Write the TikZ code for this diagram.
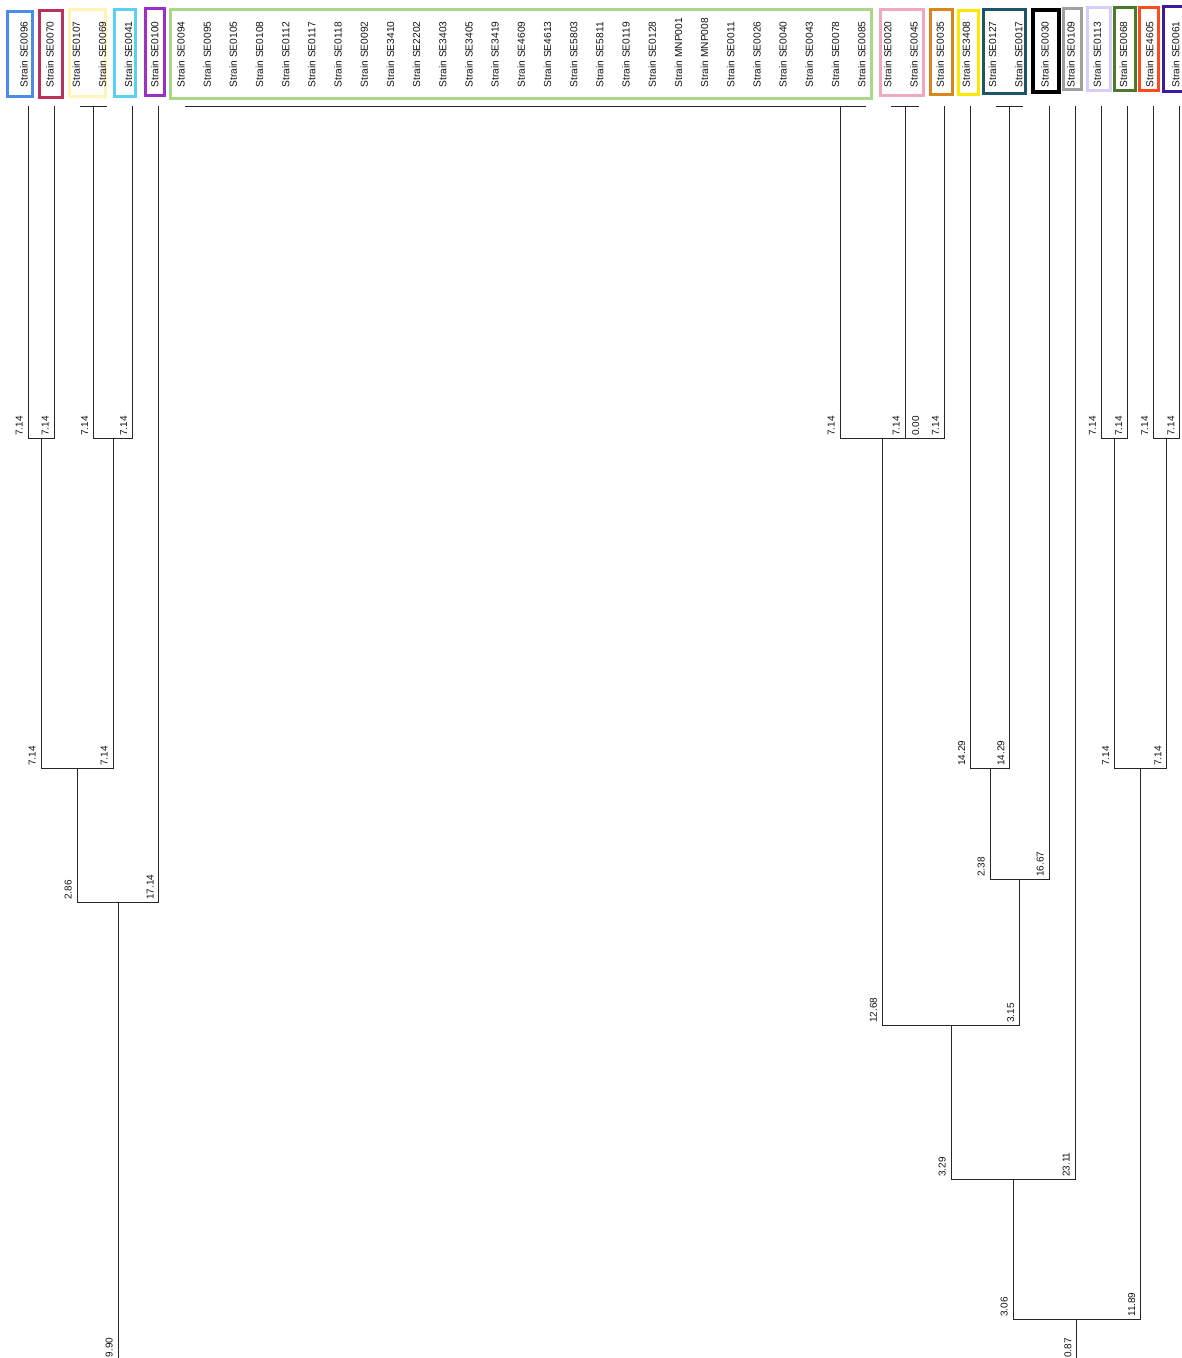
\documentclass[tikz,border=0pt]{standalone}
\usepackage{fontspec}
\setmainfont{Liberation Sans}
\begin{document}
\begin{tikzpicture}[x=1pt,y=-1pt,
  tree/.style={line width=1pt, draw=black!85, line cap=rect},
  lab/.style={rotate=90, anchor=base west, inner sep=0pt, font=\fontsize{10.2}{12}\selectfont, text=black!92},
  num/.style={rotate=90, anchor=base west, inner sep=0pt, font=\fontsize{10}{12}\selectfont, text=black!92},
  box/.style={line width=3pt}]
\useasboundingbox (0,0) rectangle (1182,1358);
\clip (0,0) rectangle (1182,1358);
\fill[white] (0,0) rectangle (1182,1358);

% colours
\definecolor{cBlue}{RGB}{74,140,232}
\definecolor{cCrimson}{RGB}{184,50,90}
\definecolor{cPaleY}{RGB}{255,245,180}
\definecolor{cCyan}{RGB}{92,208,240}
\definecolor{cPurple}{RGB}{155,48,200}
\definecolor{cLGreen}{RGB}{168,216,136}
\definecolor{cPink}{RGB}{240,168,192}
\definecolor{cOrange}{RGB}{217,134,28}
\definecolor{cYellow}{RGB}{255,232,0}
\definecolor{cTeal}{RGB}{28,84,104}
\definecolor{cGray}{RGB}{160,160,160}
\definecolor{cLav}{RGB}{216,204,248}
\definecolor{cDGreen}{RGB}{75,122,42}
\definecolor{cORed}{RGB}{255,74,30}
\definecolor{cIndigo}{RGB}{60,28,156}

% label boxes
\draw[box,cBlue] (7.5,11.5) rectangle (32.5,96.5);
\draw[box,cCrimson] (39.5,10.5) rectangle (62.5,97.5);
\draw[box,cPaleY] (69.5,9.5) rectangle (105.5,96);
\draw[box,cCyan] (114.5,9.5) rectangle (135.5,96.5);
\draw[box,cPurple] (145.5,8.5) rectangle (164.5,95.5);
\draw[box,cLGreen] (170.5,9.5) rectangle (871.5,98);
\draw[box,cPink] (880.5,9.5) rectangle (923.5,95.5);
\draw[box,cOrange] (930.5,9.5) rectangle (952.5,94);
\draw[box,cYellow] (958.5,10.5) rectangle (978.5,94.5);
\draw[box,cTeal] (983.5,9.5) rectangle (1025.5,93.5);
\draw[box,black,line width=4pt] (1032.7,10) rectangle (1058.7,92);
\draw[box,cGray] (1063.2,8.5) rectangle (1081.5,89.5);
\draw[box,cLav] (1087.5,7.5) rectangle (1110.5,90.5);
\draw[box,cDGreen] (1114.5,7.5) rectangle (1135.5,90.5);
\draw[box,cORed] (1139.5,7.5) rectangle (1158.5,90.5);
\draw[box,cIndigo] (1163.5,6.5) rectangle (1185,91.5);

% leaves
\foreach \nm [count=\i from 0] in {SE0096,SE0070,SE0107,SE0069,SE0041,SE0100,
  SE0094,SE0095,SE0105,SE0108,SE0112,SE0117,SE0118,SE0092,SE3410,SE2202,SE3403,
  SE3405,SE3419,SE4609,SE4613,SE5803,SE5811,SE0119,SE0128,MNP001,MNP008,SE0011,
  SE0026,SE0040,SE0043,SE0078,SE0085,SE0020,SE0045,SE0035,SE3408,SE0127,SE0017,
  SE0030,SE0109,SE0113,SE0068,SE4605,SE0061}{
  \pgfmathsetmacro\lx{28+26.18*\i}
  \node[lab] (L\i) at (\lx-0.5,87.5) {Strain \nm};
  \coordinate (t\i) at (\lx,106);
}

% collapsed groups
\coordinate (gA) at (93.5,106);
\coordinate (gG) at (840,106);
\coordinate (gP) at (905,106);
\coordinate (gT) at (1009.8,106);
\draw[tree] (t2) -- (t3);
\draw[tree] (t6) -- (t32);
\draw[tree] (t33) -- (t34);
\draw[tree] (t37) -- (t38);

% internal nodes
\coordinate (N1) at (41,438);
\coordinate (N2) at (113.1,438);
\coordinate (N6) at (77.05,768);
\coordinate (N10) at (118,902);
\coordinate (X) at (924.6,438);
\coordinate (N3) at (882.3,438);
\coordinate (N7) at (990.2,768);
\coordinate (N9) at (1019.6,879);
\coordinate (N11) at (951,1025);
\coordinate (N12) at (1013.1,1179);
\coordinate (N4) at (1114.5,438);
\coordinate (N5) at (1166.8,438);
\coordinate (N8) at (1140.7,768);
\coordinate (N13) at (1076.9,1319);
\coordinate (rootL) at (118,1370);
\coordinate (rootR) at (1076.9,1370);

\draw[tree] (N1) -| (t0);  \draw[tree] (N1) -| (t1);
\draw[tree] (N2) -| (gA);  \draw[tree] (N2) -| (t4);
\draw[tree] (N6) -| (N1);  \draw[tree] (N6) -| (N2);
\draw[tree] (N10) -| (N6); \draw[tree] (N10) -| (t5);
\draw[tree] (N10) -- (rootL);
\draw[tree] (X) -| (gP);   \draw[tree] (X) -| (t35);
\draw[tree] (N3) -| (gG);  \draw[tree] (N3) -| (X);
\draw[tree] (N7) -| (t36); \draw[tree] (N7) -| (gT);
\draw[tree] (N9) -| (N7);  \draw[tree] (N9) -| (t39);
\draw[tree] (N11) -| (N3); \draw[tree] (N11) -| (N9);
\draw[tree] (N12) -| (N11); \draw[tree] (N12) -| (t40);
\draw[tree] (N4) -| (t41); \draw[tree] (N4) -| (t42);
\draw[tree] (N5) -| (t43); \draw[tree] (N5) -| (t44);
\draw[tree] (N8) -| (N4);  \draw[tree] (N8) -| (N5);
\draw[tree] (N13) -| (N12); \draw[tree] (N13) -| (N8);
\draw[tree] (N13) -- (rootR);

% branch values
\foreach \t/\x/\y [count=\k] in {
  7.14/28/438, 7.14/54.2/438, 7.14/93.5/438, 7.14/132.7/438,
  7.14/840/438, 0.00/924.6/438, 7.14/905/438, 7.14/944.3/438,
  7.14/1101.4/438, 7.14/1127.6/438, 7.14/1153.7/438, 7.14/1179.9/438,
  7.14/41/768, 7.14/113.1/768, 14.29/970.5/768, 14.29/1009.8/768,
  7.14/1114.5/768, 7.14/1166.8/768,
  2.38/990.2/879, 16.67/1049/879,
  2.86/77.05/902, 17.14/159/902,
  12.68/882.3/1025, 3.15/1019.6/1025,
  3.29/951/1179, 23.11/1075.2/1179,
  3.06/1013.1/1319, 11.89/1140.6/1319,
  9.90/118/1359.5, 0.87/1076.9/1360}{
  \node[num] (b\k) at (\x-5.5,\y-2) {\t};
}
\end{tikzpicture}
\end{document}
